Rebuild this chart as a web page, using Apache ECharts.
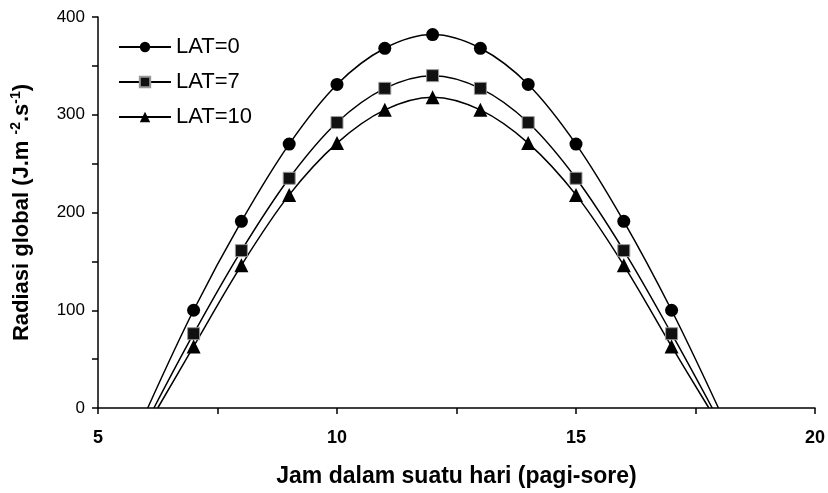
<!DOCTYPE html>
<html>
<head>
<meta charset="utf-8">
<script src="https://cdn.jsdelivr.net/npm/echarts@6/dist/echarts.min.js"></script>
<style>
  html, body { margin: 0; padding: 0; background: #fff; }
  #chart { width: 828px; height: 493px; }
</style>
</head>
<body>
<div id="chart"></div>
<script>
// jam (hours) with markers
var hours = [7, 8, 9, 10, 11, 12, 13, 14, 15, 16, 17];

// radiation values
var lat0 = [100, 191, 270, 331, 368, 382, 368, 331, 270, 191, 100];
var lat7 = [76, 161, 235, 292, 327, 340, 327, 292, 235, 161, 76];
var lat10 = [63, 146, 218, 271, 305, 318, 305, 271, 218, 146, 63];

// where each curve meets zero (no marker there)
var lat0Ends = [6.04, 17.98];
var lat7Ends = [6.17, 17.85];
var lat10Ends = [6.25, 17.78];

var seriesNames = ["LAT=0", "LAT=7", "LAT=10"];
var xTicks = [5, 10, 15, 20];
var yTicks = [0, 100, 200, 300, 400];

function buildData(values, ends) {
    var out = [{ value: [ends[0], 0], symbol: "none" }];
    hours.forEach(function (h, i) {
        out.push([h, values[i]]);
    });
    out.push({ value: [ends[1], 0], symbol: "none" });
    return out;
}

function makeSeries(name, values, ends, symbol, size, style) {
    return {
        name: name,
        type: "line",
        smooth: 0.35,
        symbol: symbol,
        symbolSize: size,
        showSymbol: true,
        lineStyle: { color: "#000", width: 1.5 },
        itemStyle: style,
        data: buildData(values, ends)
    };
}

var font = "Liberation Sans, Arial";

var chart = echarts.init(document.getElementById("chart"));
chart.setOption({
    backgroundColor: "#fff",
    animation: false,
    grid: { left: 98, right: 10, top: 17, bottom: 83 },
    legend: {
        orient: "vertical",
        left: 113,
        top: 31,
        itemWidth: 52,
        itemHeight: 13,
        itemGap: 13,
        textStyle: { fontFamily: font, fontSize: 22, color: "#000" },
        data: seriesNames
    },
    xAxis: {
        type: "value",
        min: xTicks[0],
        max: xTicks[xTicks.length - 1],
        interval: 5,
        name: "Jam dalam suatu hari (pagi-sore)",
        nameLocation: "middle",
        nameGap: 57,
        nameTextStyle: { fontFamily: font, fontSize: 23, fontWeight: "bold", color: "#000" },
        axisLine: { lineStyle: { color: "#000", width: 1.5 } },
        axisTick: { show: true, length: 6, lineStyle: { color: "#000", width: 1.5 } },
        minorTick: { show: true, splitNumber: 2, length: 6, lineStyle: { color: "#000", width: 1.5 } },
        axisLabel: { fontFamily: font, fontSize: 18, fontWeight: "bold", color: "#000", margin: 21 },
        splitLine: { show: false }
    },
    yAxis: {
        type: "value",
        min: yTicks[0],
        max: yTicks[yTicks.length - 1],
        interval: 100,
        name: "{a|Radiasi global (J.m }{s|-2}{a|.s}{s|-1}{a|)}",
        nameLocation: "middle",
        nameGap: 63,
        nameTextStyle: {
            rich: {
                a: { fontFamily: font, fontSize: 22, fontWeight: "bold", color: "#000", lineHeight: 26 },
                s: { fontFamily: font, fontSize: 14, fontWeight: "bold", color: "#000", lineHeight: 14, verticalAlign: "top" }
            }
        },
        axisLine: { show: true, lineStyle: { color: "#000", width: 1.5 } },
        axisTick: { show: true, length: 6, lineStyle: { color: "#000", width: 1.5 } },
        minorTick: { show: true, splitNumber: 2, length: 6, lineStyle: { color: "#000", width: 1.5 } },
        axisLabel: { fontFamily: font, fontSize: 17, color: "#000", margin: 13 },
        splitLine: { show: false }
    },
    series: [
        makeSeries(seriesNames[0], lat0, lat0Ends, "circle", 13, { color: "#000" }),
        makeSeries(seriesNames[1], lat7, lat7Ends, "rect", 12, { color: "#111", borderColor: "#999", borderWidth: 1 }),
        makeSeries(seriesNames[2], lat10, lat10Ends, "triangle", 14, { color: "#000" })
    ]
});
</script>
</body>
</html>
